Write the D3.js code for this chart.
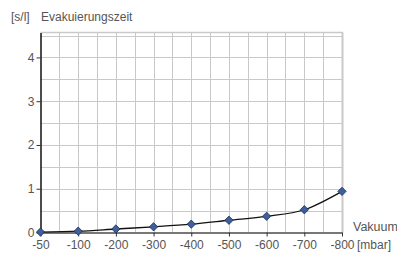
<!DOCTYPE html>
<html>
<head>
<meta charset="utf-8">
<script src="https://cdn.jsdelivr.net/npm/d3@7"></script>
<style>
  body { margin: 0; background: #fff; }
  text { font-family: "Liberation Sans", Arial, sans-serif; fill: #555; }
</style>
</head>
<body>
<svg id="chart"></svg>
<script>
var categories = ["-50", "-100", "-200", "-300", "-400", "-500", "-600", "-700", "-800"];
var values = [0.01, 0.03, 0.08, 0.13, 0.19, 0.28, 0.37, 0.52, 0.94];
var yTicks = [0, 1, 2, 3, 4];

var width = 397, height = 255;
var plotLeft = 40.5, plotRight = 342, plotTop = 32.5, plotBottom = 232.5;

var svg = d3.select("#chart")
  .attr("width", width)
  .attr("height", height);

var x = d3.scalePoint()
  .domain(categories)
  .range([plotLeft, plotRight]);

var y = d3.scaleLinear()
  .domain([0, 4.57])
  .range([plotBottom, plotTop]);

// grid: every category plus halfway between
var step = x.step();
var vx = [];
categories.forEach(function (c, i) {
  vx.push(x(c));
  if (i < categories.length - 1) vx.push(x(c) + step / 2);
});
var hy = d3.range(0.5, 4.6, 0.5);

var grid = svg.append("g");
grid.selectAll(".vg")
  .data(vx.slice(1))
  .enter()
  .append("line")
    .attr("x1", function (d) { return Math.round(d) + 0.5; })
    .attr("x2", function (d) { return Math.round(d) + 0.5; })
    .attr("y1", plotTop)
    .attr("y2", plotBottom)
    .style("stroke", "#c9c9c9")
    .style("stroke-width", function (d, i) { return i == vx.length - 2 ? 2 : 1; });
grid.selectAll(".hg")
  .data(hy)
  .enter()
  .append("line")
    .attr("x1", plotLeft)
    .attr("x2", plotRight)
    .attr("y1", function (d) { return Math.round(y(d)) + 0.5; })
    .attr("y2", function (d) { return Math.round(y(d)) + 0.5; })
    .style("stroke", "#c9c9c9");
grid.append("line")
  .attr("x1", plotLeft).attr("x2", plotRight + 1)
  .attr("y1", plotTop).attr("y2", plotTop)
  .style("stroke", "#c9c9c9").style("stroke-width", 1.5);

// x axis
var xAxis = svg.append("g")
  .attr("transform", "translate(0," + plotBottom + ")")
  .call(d3.axisBottom(x).tickSize(4).tickSizeOuter(0).tickPadding(4));
xAxis.select(".domain").attr("stroke", "#777").attr("stroke-width", 2);
xAxis.selectAll(".tick line").attr("stroke", "#333");
xAxis.selectAll(".tick text")
  .style("font-size", "12px")
  .style("fill", "#555");

// y axis
var yAxis = svg.append("g")
  .attr("transform", "translate(" + plotLeft + ",0)")
  .call(d3.axisLeft(y).tickValues(yTicks).tickFormat(d3.format("d"))
    .tickSize(4).tickSizeOuter(0).tickPadding(2));
yAxis.select(".domain").attr("stroke", "#111").attr("stroke-width", 1.5);
yAxis.selectAll(".tick line").attr("stroke", "#333");
yAxis.selectAll(".tick text")
  .style("font-size", "12px")
  .style("fill", "#555");

// line
var line = d3.line()
  .x(function (d, i) { return x(categories[i]); })
  .y(function (d) { return y(d); })
  .curve(d3.curveMonotoneX);

svg.append("path")
  .datum(values)
  .attr("d", line)
  .style("fill", "none")
  .style("stroke", "#111")
  .style("stroke-width", 1.3);

// markers
svg.append("g")
  .selectAll("path")
  .data(values)
  .enter()
  .append("path")
    .attr("d", d3.symbol().type(d3.symbolDiamond2).size(44))
    .attr("transform", function (d, i) { return "translate(" + x(categories[i]) + "," + y(d) + ")"; })
    .style("fill", "#3d5f9e")
    .style("stroke", "#1c2c4c")
    .style("stroke-width", 0.8);

// labels
svg.append("text")
  .attr("x", 11).attr("y", 21)
  .style("font-size", "12px")
  .text("[s/l]");
svg.append("text")
  .attr("x", 41).attr("y", 21)
  .style("font-size", "12px")
  .text("Evakuierungszeit");
svg.append("text")
  .attr("x", 353).attr("y", 231)
  .style("font-size", "12.5px")
  .text("Vakuum");
svg.append("text")
  .attr("x", 357).attr("y", 249)
  .style("font-size", "12px")
  .text("[mbar]");
</script>
</body>
</html>
